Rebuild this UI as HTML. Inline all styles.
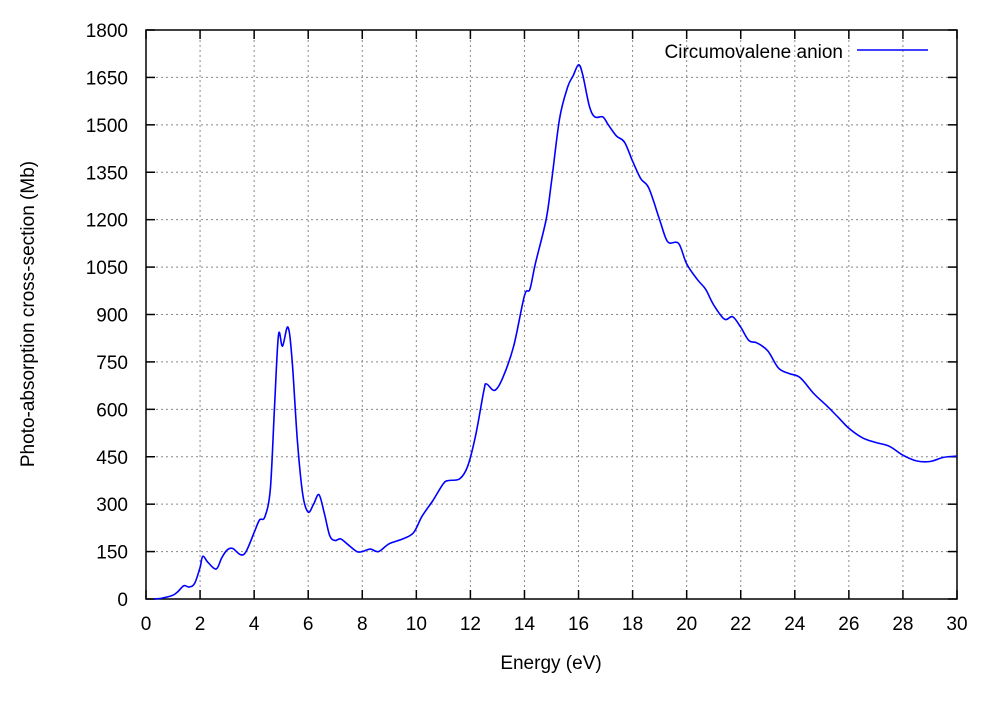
<!DOCTYPE html>
<html><head><meta charset="utf-8"><style>
body{margin:0;background:#fff;}
svg text{font-family:"Liberation Sans",sans-serif;font-size:19px;fill:#000;}
</style></head><body>
<svg id="chart" width="1000" height="700" xmlns="http://www.w3.org/2000/svg">
<g id="grid"></g>
<g id="ticks"></g>
<rect x="146" y="30" width="811" height="569" fill="none" stroke="#000" stroke-width="1.5"/>
<path id="line" fill="none" stroke="#0000ff" stroke-width="1.6"/>
<text x="843" y="58" text-anchor="end" style="font-size:19px">Circumovalene anion</text>
<line x1="857" y1="50" x2="928" y2="50" stroke="#0000ff" stroke-width="1.6"/>
<text x="551" y="669" text-anchor="middle" style="font-size:19px">Energy (eV)</text>
<text transform="translate(34,314) rotate(-90)" text-anchor="middle" style="font-size:19px">Photo-absorption cross-section (Mb)</text>
</svg>
<script>
const energies=[0.3,0.6,1.0,1.2,1.4,1.6,1.8,2.0,2.1,2.3,2.6,2.8,3.0,3.2,3.5,3.7,4.0,4.2,4.4,4.6,4.75,4.9,5.05,5.25,5.4,5.6,5.8,6.0,6.2,6.4,6.6,6.8,7.0,7.2,7.5,7.8,8.0,8.3,8.6,9.0,9.5,9.9,10.2,10.6,11.0,11.2,11.6,11.9,12.2,12.5,12.6,12.9,13.2,13.6,14.0,14.2,14.4,14.8,15.0,15.3,15.6,15.8,16.0,16.15,16.4,16.6,16.9,17.1,17.4,17.7,18.0,18.3,18.6,19.0,19.3,19.7,20.0,20.4,20.7,21.0,21.4,21.7,22.0,22.3,22.6,23.0,23.4,23.8,24.2,24.7,25.2,25.6,26.0,26.5,27.0,27.5,28.0,28.5,29.0,29.5,30];
const crossSection=[0,3,12,25,42,38,50,100,135,115,95,130,155,160,140,150,210,250,260,350,600,835,800,860,760,500,330,275,300,330,270,200,185,190,170,150,150,158,150,175,190,210,260,310,365,375,380,420,520,660,680,660,700,800,960,980,1060,1200,1320,1520,1620,1655,1690,1660,1560,1525,1525,1500,1465,1445,1385,1330,1300,1200,1130,1125,1060,1010,980,930,885,893,860,818,810,785,730,713,700,650,610,575,540,510,495,483,455,437,435,448,452];
const xTicks=[0,2,4,6,8,10,12,14,16,18,20,22,24,26,28,30];
const yTicks=[0,150,300,450,600,750,900,1050,1200,1350,1500,1650,1800];
const X0=146,X1=957,Y0=599,Y1=30;
const sx=e=>X0+e/30*(X1-X0);
const sy=v=>Y0-v/1800*(Y0-Y1);
const NS="http://www.w3.org/2000/svg";
const grid=document.getElementById('grid'),ticks=document.getElementById('ticks');
function mk(tag,attrs,parent){const el=document.createElementNS(NS,tag);for(const k in attrs)el.setAttribute(k,attrs[k]);parent.appendChild(el);return el;}
xTicks.forEach(t=>{
  const x=sx(t);
  if(t>0&&t<30){const g=mk('line',{x1:x,y1:Y1,x2:x,y2:Y0,stroke:'#888','stroke-dasharray':'2,3','stroke-width':1},grid);
  
  }
  const tk=mk('line',{x1:x,y1:Y0,x2:x,y2:Y0-9,stroke:'#000','stroke-width':1.5},ticks);
  
  
  const tk2=mk('line',{x1:x,y1:Y1,x2:x,y2:Y1+9,stroke:'#000','stroke-width':1.5},ticks);
  
  
  const tl=mk('text',{x:x,y:Y0+31,'text-anchor':'middle'},ticks);tl.textContent=t;
  
  
});
yTicks.forEach(t=>{
  const y=sy(t);
  if(t>0&&t<1800){const g=mk('line',{x1:X0,y1:y,x2:X1,y2:y,stroke:'#888','stroke-dasharray':'2,3','stroke-width':1},grid);
  
  }
  const tk=mk('line',{x1:X0,y1:y,x2:X0+9,y2:y,stroke:'#000','stroke-width':1.5},ticks);
  
  
  const tk2=mk('line',{x1:X1,y1:y,x2:X1-9,y2:y,stroke:'#000','stroke-width':1.5},ticks);
  
  
  const tl=mk('text',{x:X0-18,y:y+7,'text-anchor':'end'},ticks);tl.textContent=t;
  
  
});
const pts=energies.map((e,i)=>[sx(e),sy(crossSection[i])]);
let d='M'+pts[0][0].toFixed(1)+','+pts[0][1].toFixed(1);
for(let i=0;i<pts.length-1;i++){
  const p0=pts[Math.max(0,i-1)],p1=pts[i],p2=pts[i+1],p3=pts[Math.min(pts.length-1,i+2)];
  const c1=[p1[0]+(p2[0]-p0[0])/6,p1[1]+(p2[1]-p0[1])/6];
  const c2=[p2[0]-(p3[0]-p1[0])/6,p2[1]-(p3[1]-p1[1])/6];
  d+=' C'+c1.map(v=>v.toFixed(1)).join(',')+' '+c2.map(v=>v.toFixed(1)).join(',')+' '+p2.map(v=>v.toFixed(1)).join(',');
}
document.getElementById('line').setAttribute('d',d);
</script>
</body></html>
